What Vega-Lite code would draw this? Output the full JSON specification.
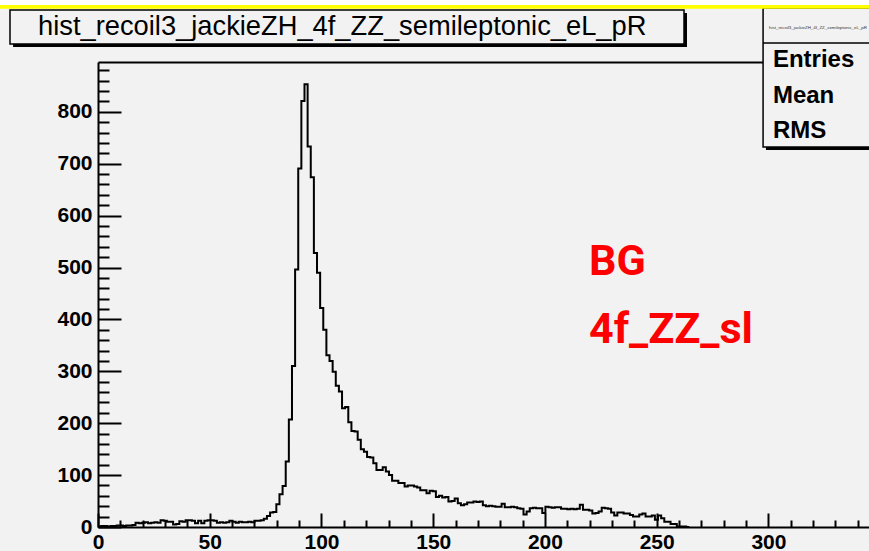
{
  "$schema": "https://vega.github.io/schema/vega-lite/v6.json",
  "width": 771,
  "height": 465,
  "autosize": {"type": "none"},
  "padding": {"left": 98, "top": 62, "right": 0, "bottom": 24},
  "background": "#f2f2f2",
  "config": {"view": {"stroke": null}},
  "datasets": {
    "hist": [
      {"lo":0,"n":1},{"lo":1.4,"n":2},{"lo":2.8,"n":2},{"lo":4.2,"n":1},{"lo":5.6,"n":2},{"lo":7,"n":2},{"lo":8.4,"n":3},{"lo":9.8,"n":3},{"lo":11.2,"n":2},{"lo":12.6,"n":3},
      {"lo":14,"n":3},{"lo":15.4,"n":4},{"lo":16.8,"n":8},{"lo":18.2,"n":7},{"lo":19.6,"n":8},{"lo":21,"n":9},{"lo":22.4,"n":7},{"lo":23.8,"n":8},{"lo":25.2,"n":9},{"lo":26.6,"n":8},
      {"lo":28,"n":13},{"lo":29.4,"n":12},{"lo":30.8,"n":10},{"lo":32.2,"n":10},{"lo":33.6,"n":5},{"lo":35,"n":6},{"lo":36.4,"n":11},{"lo":37.8,"n":10},{"lo":39.2,"n":13},{"lo":40.6,"n":13},
      {"lo":42,"n":12},{"lo":43.4,"n":7},{"lo":44.8,"n":12},{"lo":46.2,"n":7},{"lo":47.6,"n":12},{"lo":49,"n":13},{"lo":50.4,"n":13},{"lo":51.8,"n":12},{"lo":53.2,"n":8},{"lo":54.6,"n":9},
      {"lo":56,"n":8},{"lo":57.4,"n":9},{"lo":58.8,"n":12},{"lo":60.2,"n":10},{"lo":61.6,"n":8},{"lo":63,"n":10},{"lo":64.4,"n":9},{"lo":65.8,"n":9},{"lo":67.2,"n":10},{"lo":68.6,"n":9},
      {"lo":70,"n":12},{"lo":71.4,"n":12},{"lo":72.8,"n":13},{"lo":74.2,"n":16},{"lo":75.6,"n":21},{"lo":77,"n":28},{"lo":78.4,"n":29},{"lo":79.8,"n":44},{"lo":81.2,"n":63},{"lo":82.6,"n":79},
      {"lo":84,"n":126},{"lo":85.4,"n":207},{"lo":86.8,"n":310},{"lo":88.2,"n":496},{"lo":89.6,"n":691},{"lo":91,"n":821},{"lo":92.4,"n":853},{"lo":93.8,"n":733},{"lo":95.2,"n":674},{"lo":96.6,"n":528},
      {"lo":98,"n":490},{"lo":99.4,"n":422},{"lo":100.8,"n":380},{"lo":102.2,"n":331},{"lo":103.6,"n":320},{"lo":105,"n":299},{"lo":106.4,"n":272},{"lo":107.8,"n":261},{"lo":109.2,"n":229},{"lo":110.6,"n":231},
      {"lo":112,"n":202},{"lo":113.4,"n":185},{"lo":114.8,"n":184},{"lo":116.2,"n":168},{"lo":117.6,"n":150},{"lo":119,"n":145},{"lo":120.4,"n":135},{"lo":121.8,"n":134},{"lo":123.2,"n":123},{"lo":124.6,"n":110},
      {"lo":126,"n":110},{"lo":127.4,"n":115},{"lo":128.8,"n":107},{"lo":130.2,"n":100},{"lo":131.6,"n":89},{"lo":133,"n":89},{"lo":134.4,"n":85},{"lo":135.8,"n":85},{"lo":137.2,"n":78},{"lo":138.6,"n":80},
      {"lo":140,"n":80},{"lo":141.4,"n":78},{"lo":142.8,"n":76},{"lo":144.2,"n":71},{"lo":145.6,"n":71},{"lo":147,"n":65},{"lo":148.4,"n":70},{"lo":149.8,"n":69},{"lo":151.2,"n":58},{"lo":152.6,"n":60},
      {"lo":154,"n":57},{"lo":155.4,"n":58},{"lo":156.8,"n":49},{"lo":158.2,"n":50},{"lo":159.6,"n":55},{"lo":161,"n":46},{"lo":162.4,"n":42},{"lo":163.8,"n":44},{"lo":165.2,"n":47},{"lo":166.6,"n":47},
      {"lo":168,"n":49},{"lo":169.4,"n":48},{"lo":170.8,"n":49},{"lo":172.2,"n":42},{"lo":173.6,"n":40},{"lo":175,"n":41},{"lo":176.4,"n":40},{"lo":177.8,"n":39},{"lo":179.2,"n":39},{"lo":180.6,"n":45},
      {"lo":182,"n":38},{"lo":183.4,"n":38},{"lo":184.8,"n":39},{"lo":186.2,"n":38},{"lo":187.6,"n":36},{"lo":189,"n":35},{"lo":190.4,"n":24},{"lo":191.8,"n":30},{"lo":193.2,"n":36},{"lo":194.6,"n":37},
      {"lo":196,"n":36},{"lo":197.4,"n":36},{"lo":198.8,"n":27},{"lo":200.2,"n":39},{"lo":201.6,"n":38},{"lo":203,"n":37},{"lo":204.4,"n":38},{"lo":205.8,"n":38},{"lo":207.2,"n":35},{"lo":208.6,"n":35},
      {"lo":210,"n":34},{"lo":211.4,"n":35},{"lo":212.8,"n":34},{"lo":214.2,"n":35},{"lo":215.6,"n":43},{"lo":217,"n":33},{"lo":218.4,"n":33},{"lo":219.8,"n":32},{"lo":221.2,"n":26},{"lo":222.6,"n":27},
      {"lo":224,"n":30},{"lo":225.4,"n":37},{"lo":226.8,"n":36},{"lo":228.2,"n":35},{"lo":229.6,"n":28},{"lo":231,"n":22},{"lo":232.4,"n":28},{"lo":233.8,"n":28},{"lo":235.2,"n":26},{"lo":236.6,"n":26},
      {"lo":238,"n":23},{"lo":239.4,"n":20},{"lo":240.8,"n":20},{"lo":242.2,"n":24},{"lo":243.6,"n":26},{"lo":245,"n":20},{"lo":246.4,"n":20},{"lo":247.8,"n":22},{"lo":249.2,"n":14},{"lo":250.6,"n":22},
      {"lo":252,"n":17},{"lo":253.4,"n":10},{"lo":254.8,"n":10},{"lo":256.2,"n":6},{"lo":257.6,"n":6},{"lo":259,"n":1},{"lo":260.4,"n":1},{"lo":261.8,"n":1},{"lo":263.2,"n":0},{"lo":264.6,"n":0}
    ]
  },
  "resolve": {"axis": {"x": "independent", "y": "independent"}},
  "layer": [
    {
      "data": {"values": [{}]},
      "mark": {"type": "point", "opacity": 0},
      "encoding": {
        "x": {"datum": 0, "type": "quantitative", "scale": {"domain": [0, 345], "nice": false, "zero": false}, "axis": {"orient": "bottom", "values": [0, 50, 100, 150, 200, 250, 300, 350], "ticks": false, "grid": false, "domain": true, "domainColor": "#000000", "domainWidth": 2, "labels": true, "labelFont": "Liberation Sans", "labelFontWeight": "bold", "labelFontSize": 21, "labelColor": "#000000", "labelPadding": 4, "labelFlush": false, "labelOverlap": false, "title": null, "zindex": 1}},
        "y": {"datum": 0, "type": "quantitative", "scale": {"domain": [0, 896], "nice": false, "zero": false}, "axis": {"orient": "left", "values": [0, 100, 200, 300, 400, 500, 600, 700, 800], "ticks": false, "grid": false, "domain": true, "domainColor": "#000000", "domainWidth": 2, "labels": true, "labelFont": "Liberation Sans", "labelFontWeight": "bold", "labelFontSize": 21, "labelColor": "#000000", "labelPadding": 6, "labelFlush": false, "labelOverlap": false, "title": null, "zindex": 1}}
      }
    },
    {
      "data": {"values": [{}]},
      "mark": {"type": "point", "opacity": 0},
      "encoding": {
        "x": {"datum": 0, "type": "quantitative", "axis": {"orient": "top", "offset": -465, "values": [0, 50, 100, 150, 200, 250, 300, 350], "ticks": true, "tickSize": 14, "tickWidth": 2, "tickColor": "#000000", "grid": false, "domain": false, "labels": false, "title": null, "zindex": 1}},
        "y": {"datum": 0, "type": "quantitative", "axis": {"orient": "right", "offset": -771, "values": [0, 100, 200, 300, 400, 500, 600, 700, 800], "ticks": true, "tickSize": 23, "tickWidth": 2, "tickColor": "#000000", "grid": false, "domain": false, "labels": false, "title": null, "zindex": 1}}
      }
    },
    {
      "data": {"values": [{}]},
      "mark": {"type": "point", "opacity": 0},
      "encoding": {
        "x": {"datum": 0, "type": "quantitative", "axis": {"orient": "top", "offset": -465, "values": [10, 20, 30, 40, 60, 70, 80, 90, 110, 120, 130, 140, 160, 170, 180, 190, 210, 220, 230, 240, 260, 270, 280, 290, 310, 320, 330, 340], "ticks": true, "tickSize": 7, "tickWidth": 2, "tickColor": "#000000", "grid": false, "domain": false, "labels": false, "title": null, "zindex": 1}},
        "y": {"datum": 0, "type": "quantitative", "axis": {"orient": "right", "offset": -771, "values": [20, 40, 60, 80, 120, 140, 160, 180, 220, 240, 260, 280, 320, 340, 360, 380, 420, 440, 460, 480, 520, 540, 560, 580, 620, 640, 660, 680, 720, 740, 760, 780, 820, 840, 860, 880], "ticks": true, "tickSize": 11, "tickWidth": 2, "tickColor": "#000000", "grid": false, "domain": false, "labels": false, "title": null, "zindex": 1}}
      }
    },
    {
      "data": {"values": [{}]},
      "mark": {"type": "point", "opacity": 0},
      "encoding": {
        "x": {"datum": 0, "type": "quantitative", "axis": {"orient": "top", "ticks": false, "labels": false, "grid": false, "domain": true, "domainColor": "#000000", "domainWidth": 2, "title": null, "zindex": 0}},
        "y": {"datum": 0, "type": "quantitative", "axis": null}
      }
    },
    {
      "data": {"name": "hist"},
      "mark": {"type": "line", "interpolate": "step-after", "color": "#000000", "strokeWidth": 2},
      "encoding": {
        "x": {"field": "lo", "type": "quantitative", "axis": null},
        "y": {"field": "n", "type": "quantitative", "axis": null}
      }
    },
    {
      "data": {"values": [{"label": "BG", "px": 219.7, "py": 485.6}, {"label": "4f_ZZ_sl", "px": 219.7, "py": 354.5}]},
      "mark": {"type": "text", "align": "left", "baseline": "alphabetic", "font": "Roboto", "fontWeight": "bold", "fontSize": 43, "color": "#ff0000"},
      "encoding": {
        "x": {"field": "px", "type": "quantitative", "axis": null},
        "y": {"field": "py", "type": "quantitative", "axis": null},
        "text": {"field": "label"}
      }
    },
    {
      "data": {"values": [{}]},
      "mark": {"type": "rect", "fill": "#000000"},
      "encoding": {
        "x": {"datum": -38.0, "type": "quantitative", "axis": null},
        "x2": {"datum": 263.56},
        "y": {"datum": 924.9, "type": "quantitative", "axis": null},
        "y2": {"datum": 990.4}
      }
    },
    {
      "data": {"values": [{}]},
      "mark": {"type": "rect", "fill": "#f2f2f2", "stroke": "#000000", "strokeWidth": 1.5},
      "encoding": {
        "x": {"datum": -39.38, "type": "quantitative", "axis": null},
        "x2": {"datum": 262.22},
        "y": {"datum": 930.7, "type": "quantitative", "axis": null},
        "y2": {"datum": 996.2}
      }
    },
    {
      "data": {"values": [{}]},
      "mark": {"type": "text", "align": "left", "baseline": "alphabetic", "font": "Liberation Sans", "fontSize": 27.3, "color": "#000000", "text": "hist_recoil3_jackieZH_4f_ZZ_semileptonic_eL_pR"},
      "encoding": {
        "x": {"datum": -26.85, "type": "quantitative", "axis": null},
        "y": {"datum": 948.0, "type": "quantitative", "axis": null}
      }
    },
    {
      "data": {"values": [{}]},
      "mark": {"type": "rect", "fill": "#000000"},
      "encoding": {
        "x": {"datum": 298.9, "type": "quantitative", "axis": null},
        "x2": {"datum": 360},
        "y": {"datum": 726.4, "type": "quantitative", "axis": null},
        "y2": {"datum": 994.3}
      }
    },
    {
      "data": {"values": [{}]},
      "mark": {"type": "rect", "fill": "#f2f2f2", "stroke": "#000000", "strokeWidth": 1.5},
      "encoding": {
        "x": {"datum": 297.6, "type": "quantitative", "axis": null},
        "x2": {"datum": 360},
        "y": {"datum": 732.2, "type": "quantitative", "axis": null},
        "y2": {"datum": 1000.1}
      }
    },
    {
      "data": {"values": [{}]},
      "mark": {"type": "rule", "color": "#000000", "strokeWidth": 1.5},
      "encoding": {
        "x": {"datum": 297.6, "type": "quantitative", "axis": null},
        "x2": {"datum": 360},
        "y": {"datum": 932.6, "type": "quantitative", "axis": null}
      }
    },
    {
      "data": {"values": [{}]},
      "mark": {"type": "text", "align": "left", "baseline": "alphabetic", "font": "Liberation Sans", "fontSize": 4.4, "color": "#333333", "text": "hist_recoil3_jackieZH_4f_ZZ_semileptonic_eL_pR"},
      "encoding": {
        "x": {"datum": 300.3, "type": "quantitative", "axis": null},
        "y": {"datum": 960.0, "type": "quantitative", "axis": null}
      }
    },
    {
      "data": {"values": [{"label": "Entries", "py": 886.4}, {"label": "Mean", "py": 817.0}, {"label": "RMS", "py": 750.5}]},
      "mark": {"type": "text", "align": "left", "baseline": "alphabetic", "font": "Liberation Sans", "fontWeight": "bold", "fontSize": 24, "color": "#000000"},
      "encoding": {
        "x": {"datum": 302.0, "type": "quantitative", "axis": null},
        "y": {"field": "py", "type": "quantitative", "axis": null},
        "text": {"field": "label"}
      }
    },
    {
      "data": {"values": [{}]},
      "mark": {"type": "rect", "fill": "#ffffff"},
      "encoding": {
        "x": {"datum": -50, "type": "quantitative", "axis": null},
        "x2": {"datum": 360},
        "y": {"datum": 1005.8, "type": "quantitative", "axis": null},
        "y2": {"datum": 1020}
      }
    },
    {
      "data": {"values": [{}]},
      "mark": {"type": "rect", "fill": "#ffff00"},
      "encoding": {
        "x": {"datum": -50, "type": "quantitative", "axis": null},
        "x2": {"datum": 360},
        "y": {"datum": 998.8, "type": "quantitative", "axis": null},
        "y2": {"datum": 1005.8}
      }
    }
  ]
}
